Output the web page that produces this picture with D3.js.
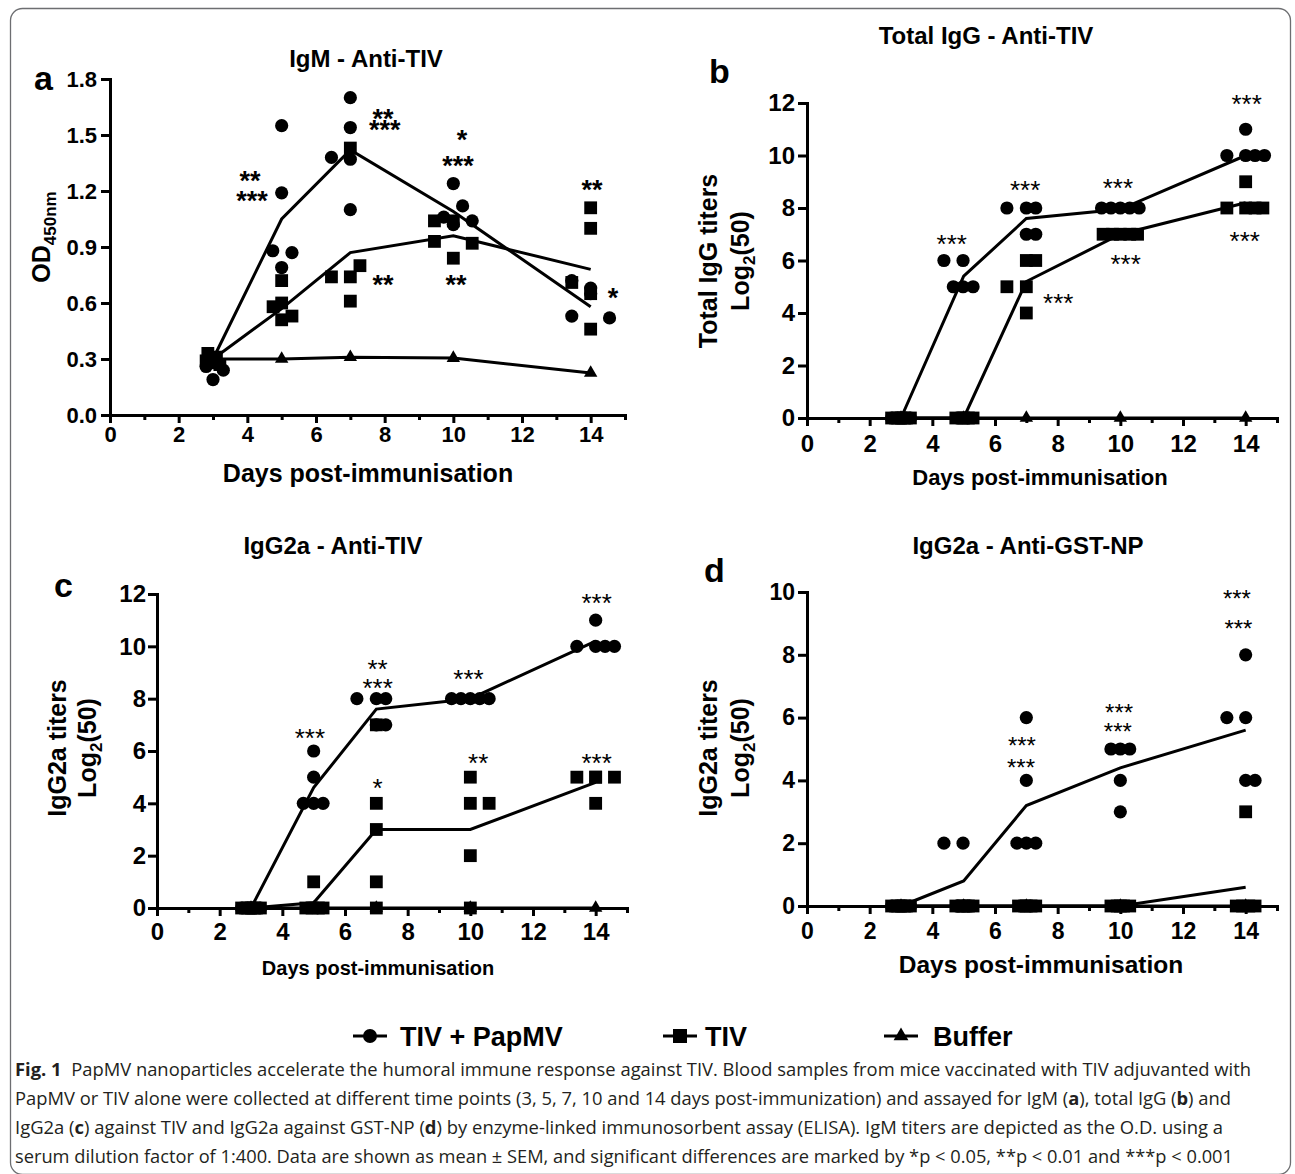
<!DOCTYPE html>
<html><head><meta charset="utf-8">
<script src="https://cdn.jsdelivr.net/npm/d3@7"></script>
<style>body{margin:0;background:#fff}</style>
</head><body>
<svg id="fig" width="1295" height="1174"></svg>
<script>
// ---------------- DATA ----------------
const days = [3, 5, 7, 10, 14];
const xMajorTicks = [0, 2, 4, 6, 8, 10, 12, 14];
const xMinorTicks = [1, 3, 5, 7, 9, 11, 13, 15];
const aYTicks = [0, 0.3, 0.6, 0.9, 1.2, 1.5, 1.8];
const titerTicks12 = [0, 2, 4, 6, 8, 10, 12];
const titerTicks10 = [0, 2, 4, 6, 8, 10];
const legendLabels = ["TIV + PapMV", "TIV", "Buffer"];

// Panel a: IgM (OD450) — points as [day position, value]
const aCircles = [[2.8,0.26],[3.0,0.19],[3.3,0.24],[3.0,0.28],[2.9,0.30],
  [5.0,1.55],[5.0,1.19],[4.74,0.88],[5.3,0.87],[5.0,0.79],
  [7.0,1.70],[7.0,1.54],[6.45,1.38],[7.0,1.37],[7.0,1.10],
  [10.0,1.24],[10.27,1.12],[10.55,1.04],[10.0,1.02],[9.72,1.06],
  [13.45,0.72],[14.0,0.68],[14.0,0.65],[13.45,0.53],[14.55,0.52]];
const aSquares = [[2.85,0.33],[3.1,0.31],[2.8,0.29],[3.2,0.27],[3.0,0.30],
  [5.0,0.72],[4.75,0.58],[5.0,0.60],[5.0,0.51],[5.3,0.53],
  [7.0,1.43],[6.45,0.74],[7.0,0.74],[7.28,0.80],[7.0,0.61],
  [9.45,1.04],[10.0,1.04],[9.45,0.93],[10.55,0.92],[10.0,0.84],
  [14.0,1.11],[14.0,1.00],[13.45,0.71],[14.0,0.65],[14.0,0.46]];
const aTriangles = [[3,0.30],[5,0.30],[7,0.31],[10,0.305],[14,0.225]];
const aMeanCircle = [0.30, 1.05, 1.42, 1.09, 0.58];
const aMeanSquare = [0.30, 0.57, 0.87, 0.96, 0.78];
const aMeanTriangle = [0.30, 0.30, 0.31, 0.305, 0.225];
const aStars = [[4.08,1.29,"**"],[4.14,1.18,"***"],[7.95,1.62,"**"],[8.0,1.56,"***"],
  [10.25,1.51,"*"],[10.14,1.37,"***"],[14.04,1.24,"**"],[14.65,0.66,"*"],
  [7.95,0.73,"**"],[10.08,0.73,"**"]];

// Panel b: Total IgG
const bCircles = [[2.7,0],[2.9,0],[3.1,0],[3.3,0],[3.0,0],
  [4.37,6],[4.98,6],[4.67,5],[4.98,5],[5.3,5],
  [6.38,8],[7.0,8],[7.3,8],[7.0,7],[7.3,7],
  [9.4,8],[9.7,8],[10.0,8],[10.3,8],[10.6,8],
  [14.0,11],[13.4,10],[14.0,10],[14.6,10],[14.3,10]];
const bSquares = [[2.7,0],[2.9,0],[3.1,0],[3.3,0],[3.0,0],
  [4.75,0],[4.95,0],[5.15,0],[5.3,0],[5.0,0],
  [7.0,6],[7.3,6],[6.38,5],[7.0,5],[7.0,4],
  [9.45,7],[9.75,7],[10.0,7],[10.3,7],[10.55,7],
  [14.0,9],[13.4,8],[14.0,8],[14.3,8],[14.55,8]];
const bTriangles = [[3,0],[5,0],[7,0],[10,0],[14,0]];
const bMeanCircle = [0, 5.4, 7.6, 7.95, 10.0];
const bMeanSquare = [0, 0, 5.2, 7.0, 8.2];
const bMeanTriangle = [0, 0, 0, 0, 0];
const bStars = [[4.62,6.86,"***"],[6.96,8.91,"***"],[9.92,9.0,"***"],[14.03,12.18,"***"],
  [13.97,6.97,"***"],[10.17,6.08,"***"],[8.02,4.62,"***"]];

// Panel c: IgG2a anti-TIV
const cCircles = [[2.7,0],[2.9,0],[3.1,0],[3.3,0],[3.0,0],
  [5.0,6],[5.0,5],[4.67,4],[5.0,4],[5.3,4],
  [6.38,8],[7.0,8],[7.3,8],[7.3,7],[7.0,7],
  [9.4,8],[9.7,8],[10.0,8],[10.3,8],[10.6,8],
  [14.0,11],[13.4,10],[14.0,10],[14.3,10],[14.6,10]];
const cSquares = [[2.7,0],[2.9,0],[3.1,0],[3.3,0],[3.0,0],
  [5.0,1],[4.75,0],[4.95,0],[5.15,0],[5.3,0],
  [7.0,7],[7.0,4],[7.0,3],[7.0,1],[7.0,0],
  [10.0,5],[10.0,4],[10.6,4],[10.0,2],[10.0,0],
  [13.4,5],[14.0,5],[14.6,5],[14.0,4],[14.0,5]];
const cTriangles = [[3,0],[5,0],[7,0],[10,0],[14,0]];
const cMeanCircle = [0, 4.6, 7.6, 8.0, 10.2];
const cMeanSquare = [0, 0.2, 3.0, 3.0, 4.8];
const cMeanTriangle = [0, 0, 0, 0, 0];
const cStars = [[4.88,6.74,"***"],[7.04,9.35,"**"],[7.04,8.65,"***"],[9.94,8.97,"***"],
  [14.03,11.87,"***"],[7.04,4.83,"*"],[10.25,5.76,"**"],[14.03,5.78,"***"]];

// Panel d: IgG2a anti-GST-NP
const dCircles = [[2.7,0],[2.9,0],[3.1,0],[3.3,0],[3.0,0],
  [4.37,2],[4.98,2],[4.8,0],[5.0,0],[5.2,0],
  [7.0,6],[7.0,4],[6.7,2],[7.0,2],[7.3,2],
  [9.7,5],[10.0,5],[10.3,5],[10.0,4],[10.0,3],
  [14.0,8],[13.4,6],[14.0,6],[14.0,4],[14.3,4]];
const dSquares = [[2.7,0],[2.9,0],[3.1,0],[3.3,0],[3.0,0],
  [4.75,0],[4.95,0],[5.15,0],[5.3,0],[5.0,0],
  [6.75,0],[6.95,0],[7.15,0],[7.3,0],[7.0,0],
  [9.7,0],[9.9,0],[10.1,0],[10.3,0],[10.0,0],
  [14.0,3],[13.7,0],[13.9,0],[14.1,0],[14.3,0]];
const dTriangles = [[3,0],[5,0],[7,0],[10,0],[14,0]];
const dMeanCircle = [0, 0.8, 3.2, 4.4, 5.6];
const dMeanSquare = [0, 0, 0, 0, 0.6];
const dMeanTriangle = [0, 0, 0, 0, 0];
const dStars = [[6.86,5.29,"***"],[6.83,4.58,"***"],[9.96,6.33,"***"],[9.92,5.74,"***"],
  [13.72,9.96,"***"],[13.77,9.0,"***"]];

const captionLines = [
  [["Fig. 1", true], ["  PapMV nanoparticles accelerate the humoral immune response against TIV. Blood samples from mice vaccinated with TIV adjuvanted with", false]],
  [["PapMV or TIV alone were collected at different time points (3, 5, 7, 10 and 14 days post-immunization) and assayed for IgM (", false], ["a", true], ["), total IgG (", false], ["b", true], [") and", false]],
  [["IgG2a (", false], ["c", true], [") against TIV and IgG2a against GST-NP (", false], ["d", true], [") by enzyme-linked immunosorbent assay (ELISA). IgM titers are depicted as the O.D. using a", false]],
  [["serum dilution factor of 1:400. Data are shown as mean \u00b1 SEM, and significant differences are marked by *p < 0.05, **p < 0.01 and ***p < 0.001", false]]
];

// ---------------- DRAWING ----------------
const F = "'Liberation Sans', Arial, Helvetica, sans-serif";
const svg = d3.select('#fig');

svg.append('rect').attr('x', 10.5).attr('y', 8.5).attr('width', 1280).attr('height', 1166)
  .attr('rx', 12).attr('fill', 'none').attr('stroke', '#6d6e71').attr('stroke-width', 1.3);

const triSym = d3.symbol().type(d3.symbolTriangle).size(78);

function drawPanel(c) {
  const g = svg.append('g');
  const x = d3.scaleLinear().domain([0, 15]).range([c.left, c.right]);
  const y = d3.scaleLinear().domain([0, c.yMax]).range([c.bottom, c.top]);

  // x axis major + minor
  const xa = g.append('g').attr('transform', `translate(0,${c.bottom})`)
    .call(d3.axisBottom(x).tickValues(xMajorTicks).tickSize(8).tickSizeOuter(0)
      .tickPadding(c.xPad).tickFormat(d3.format('d')));
  const xm = g.append('g').attr('transform', `translate(0,${c.bottom})`)
    .call(d3.axisBottom(x).tickValues(xMinorTicks).tickSize(5).tickSizeOuter(0).tickFormat(''));
  xm.select('.domain').remove();
  const ya = g.append('g').attr('transform', `translate(${c.left},0)`)
    .call(d3.axisLeft(y).tickValues(c.yTicks).tickSize(9).tickSizeOuter(0)
      .tickPadding(c.yPad).tickFormat(c.yFmt));
  [xa, xm, ya].forEach(s => {
    s.attr('font-family', F).attr('font-size', c.tickFs).attr('font-weight', 'bold');
    s.select('.domain').attr('stroke', '#000').attr('stroke-width', 3).attr('stroke-linecap', 'square');
    s.selectAll('.tick line').attr('stroke', '#000').attr('stroke-width', 3);
    s.selectAll('.tick text').attr('fill', '#000');
  });

  // mean lines
  const line = d3.line().x((d, i) => x(days[i])).y(d => y(d));
  [c.mTri, c.mSq, c.mCirc].forEach(m => {
    g.append('path').attr('d', line(m)).attr('fill', 'none').attr('stroke', '#000')
      .attr('stroke-width', 3).attr('stroke-linejoin', 'miter');
  });

  // points
  g.selectAll('circle.pt').data(c.circ).join('circle').attr('class', 'pt')
    .attr('cx', d => x(d[0])).attr('cy', d => y(d[1])).attr('r', 6.6).attr('fill', '#000');
  g.selectAll('rect.pt').data(c.sq).join('rect').attr('class', 'pt')
    .attr('x', d => x(d[0]) - 6.4).attr('y', d => y(d[1]) - 6.4)
    .attr('width', 12.8).attr('height', 12.8).attr('fill', '#000');
  g.selectAll('path.tri').data(c.tri).join('path').attr('class', 'tri')
    .attr('d', triSym).attr('transform', d => `translate(${x(d[0])},${y(d[1])})`).attr('fill', '#000');

  // significance stars
  g.selectAll('text.star').data(c.stars).join('text').attr('class', 'star')
    .attr('x', d => x(d[0])).attr('y', d => y(d[1]) + 0.58 * c.starFs)
    .attr('text-anchor', 'middle').attr('font-family', F).attr('font-size', c.starFs)
    .attr('font-weight', c.starW).text(d => d[2]);

  // panel title
  g.append('text').attr('x', c.title[1]).attr('y', c.title[2]).attr('text-anchor', 'middle')
    .attr('font-family', F).attr('font-weight', 'bold').attr('font-size', 24).text(c.title[0]);
  // panel letter
  g.append('text').attr('x', c.letter[1]).attr('y', c.letter[2])
    .attr('font-family', F).attr('font-weight', 'bold').attr('font-size', 34).text(c.letter[0]);
  // x title
  g.append('text').attr('x', c.xt[0]).attr('y', c.xt[1]).attr('text-anchor', 'middle')
    .attr('font-family', F).attr('font-weight', 'bold').attr('font-size', c.xt[2])
    .text('Days post-immunisation');
  // y label
  c.ylab(g);
  return {x, y};
}

function yTiter(g, first, bx1, bx2, cy) {
  g.append('text').attr('transform', `translate(${bx1},${cy}) rotate(-90)`).attr('text-anchor', 'middle')
    .attr('font-family', F).attr('font-weight', 'bold').attr('font-size', 25).text(first);
  const t = g.append('text').attr('transform', `translate(${bx2},${cy}) rotate(-90)`).attr('text-anchor', 'middle')
    .attr('font-family', F).attr('font-weight', 'bold').attr('font-size', 25);
  t.append('tspan').text('Log');
  t.append('tspan').attr('font-size', 17).attr('dy', 6).text('2');
  t.append('tspan').attr('dy', -6).text('(50)');
}

drawPanel({left: 110, right: 625, bottom: 415, top: 79, yMax: 1.8, yTicks: aYTicks, yFmt: d3.format('.1f'),
  tickFs: 22, xPad: 3, yPad: 4, circ: aCircles, sq: aSquares, tri: aTriangles,
  mCirc: aMeanCircle, mSq: aMeanSquare, mTri: aMeanTriangle, stars: aStars, starFs: 27, starW: 'bold',
  title: ['IgM - Anti-TIV', 366, 67], letter: ['a', 34, 90], xt: [368, 482, 25],
  ylab: g => {
    const t = g.append('text').attr('transform', 'translate(50,237) rotate(-90)').attr('text-anchor', 'middle')
      .attr('font-family', F).attr('font-weight', 'bold').attr('font-size', 25);
    t.append('tspan').text('OD');
    t.append('tspan').attr('font-size', 17).attr('dy', 6).text('450nm');
  }});

drawPanel({left: 807, right: 1277, bottom: 418, top: 103, yMax: 12, yTicks: titerTicks12, yFmt: d3.format('d'),
  tickFs: 24, xPad: 9, yPad: 3, circ: bCircles, sq: bSquares, tri: bTriangles,
  mCirc: bMeanCircle, mSq: bMeanSquare, mTri: bMeanTriangle, stars: bStars, starFs: 26, starW: 'normal',
  title: ['Total IgG - Anti-TIV', 986, 44], letter: ['b', 709, 83], xt: [1040, 485, 22],
  ylab: g => yTiter(g, 'Total IgG titers', 717, 749, 261)});

drawPanel({left: 157, right: 627, bottom: 908, top: 594, yMax: 12, yTicks: titerTicks12, yFmt: d3.format('d'),
  tickFs: 24, xPad: 7, yPad: 2, circ: cCircles, sq: cSquares, tri: cTriangles,
  mCirc: cMeanCircle, mSq: cMeanSquare, mTri: cMeanTriangle, stars: cStars, starFs: 26, starW: 'normal',
  title: ['IgG2a - Anti-TIV', 333, 554], letter: ['c', 54, 597], xt: [378, 975, 20],
  ylab: g => yTiter(g, 'IgG2a titers', 66, 96, 748)});

drawPanel({left: 807, right: 1277, bottom: 906, top: 592, yMax: 10, yTicks: titerTicks10, yFmt: d3.format('d'),
  tickFs: 23, xPad: 9, yPad: 3, circ: dCircles, sq: dSquares, tri: dTriangles,
  mCirc: dMeanCircle, mSq: dMeanSquare, mTri: dMeanTriangle, stars: dStars, starFs: 24, starW: 'normal',
  title: ['IgG2a - Anti-GST-NP', 1028, 554], letter: ['d', 704, 582], xt: [1041, 973, 24.5],
  ylab: g => yTiter(g, 'IgG2a titers', 717, 749, 748)});

// ---------------- LEGEND ----------------
const legY = 1036;
const legItems = [
  {cx: 370, tx: 400, shape: 'circle'},
  {cx: 680, tx: 705, shape: 'square'},
  {cx: 901, tx: 933, shape: 'triangle'}
];
const lg = svg.append('g');
legItems.forEach((it, i) => {
  lg.append('line').attr('x1', it.cx - 17).attr('x2', it.cx + 17).attr('y1', legY).attr('y2', legY)
    .attr('stroke', '#000').attr('stroke-width', 3);
  if (it.shape === 'circle') lg.append('circle').attr('cx', it.cx).attr('cy', legY).attr('r', 7).attr('fill', '#000');
  if (it.shape === 'square') lg.append('rect').attr('x', it.cx - 7).attr('y', legY - 7).attr('width', 14).attr('height', 14).attr('fill', '#000');
  if (it.shape === 'triangle') lg.append('path').attr('d', d3.symbol().type(d3.symbolTriangle).size(95)())
    .attr('transform', `translate(${it.cx},${legY})`).attr('fill', '#000');
  lg.append('text').attr('x', it.tx).attr('y', legY + 9.5).attr('font-family', F).attr('font-weight', 'bold')
    .attr('font-size', 27).text(legendLabels[i]);
});

// ---------------- CAPTION ----------------
const capBase = [1076, 1105, 1134, 1163];
const capWidth = [1236, 1216, 1208, 1218];
captionLines.forEach((parts, i) => {
  const t = svg.append('text').attr('x', 15).attr('y', capBase[i])
    .attr('font-family', "'Open Sans', 'Noto Sans', sans-serif").attr('font-size', 18).attr('fill', '#231f20')
    .attr('textLength', capWidth[i]).attr('lengthAdjust', 'spacingAndGlyphs').attr('xml:space', 'preserve');
  parts.forEach(p => t.append('tspan').attr('font-weight', p[1] ? 'bold' : 'normal').text(p[0]));
});
</script>
</body></html>
